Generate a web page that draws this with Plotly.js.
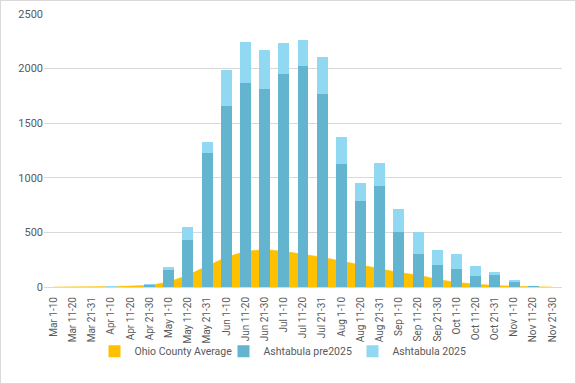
<!DOCTYPE html>
<html>
<head>
<meta charset="utf-8">
<script src="https://cdn.plot.ly/plotly-3.0.1.min.js"></script>
<style>
html,body{margin:0;padding:0;background:#fff;}
#chart{width:574px;height:382px;border:1px solid #D9D9D9;}
</style>
</head>
<body>
<div id="chart"></div>
<script>
const categories = ["Mar 1-10","Mar 11-20","Mar 21-31","Apr 1-10","Apr 11-20","Apr 21-30",
  "May 1-10","May 11-20","May 21-31","Jun 1-10","Jun 11-20","Jun 21-30",
  "Jul 1-10","Jul 11-20","Jul 21-31","Aug 1-10","Aug 11-20","Aug 21-31",
  "Sep 1-10","Sep 11-20","Sep 21-30","Oct 1-10","Oct 11-20","Oct 21-31",
  "Nov 1-10","Nov 11-20","Nov 21-30"];
const ohioAverage = [0,0,1,4,9,16,46,109,192,273,327,344,327,302,273,237,202,168,133,110,71,42,26,13,7,3,0];
const ashtabulaPre2025 = [0,0,0,0,0,20,156,431,1229,1659,1870,1815,1953,2026,1769,1128,788,926,504,303,202,165,101,110,46,9,0];
const ashtabula2025 = [0,0,0,10,0,8,27,119,100,331,376,358,284,239,340,247,165,211,211,201,137,138,92,28,18,3,0];

const fam = "Roboto, 'Liberation Sans', sans-serif";
const grey = "#595959";

const traces = [
  {type: "scatter", mode: "lines", name: "Ohio County Average", x: categories, y: ohioAverage,
   fill: "tozeroy", fillcolor: "#FFC000", line: {color: "#FFC000", width: 0.5},
   xaxis: "x", yaxis: "y", showlegend: false, hoverinfo: "x+y"},
  {type: "bar", name: "Ohio County Average", x: categories, y: categories.map(() => null),
   marker: {color: "#FFC000"}, xaxis: "x", yaxis: "y", showlegend: true},
  {type: "bar", name: "Ashtabula pre2025", x: categories, y: ashtabulaPre2025,
   marker: {color: "#63B5CF"}, xaxis: "x2", yaxis: "y2"},
  {type: "bar", name: "Ashtabula 2025", x: categories, y: ashtabula2025,
   marker: {color: "#91D8F3"}, xaxis: "x2", yaxis: "y2"}
];

const layout = {
  width: 574, height: 382,
  margin: {l: 43, r: 13, t: 13, b: 96},
  paper_bgcolor: "#fff", plot_bgcolor: "rgba(0,0,0,0)",
  font: {family: fam, size: 11, color: grey},
  barmode: "stack", bargap: 0.43,
  showlegend: true,
  legend: {orientation: "h", x: 0.5, xanchor: "center", xref: "container",
           y: 0.083, yref: "container", yanchor: "middle", bgcolor: "rgba(0,0,0,0)",
           itemwidth: 30, entrywidth: 84, entrywidthmode: "pixels",
           font: {family: fam, size: 10.5, color: grey}, traceorder: "normal"},
  xaxis: {type: "category", range: [-0.5, 26.5], tickangle: -90, showgrid: false,
          showline: true, linecolor: "#D9D9D9", linewidth: 1, ticks: "",
          ticklabelstandoff: 5,
          tickfont: {family: fam, size: 10, color: grey}, zeroline: false},
  yaxis: {range: [0, 2500], dtick: 500, showgrid: true, gridcolor: "#D9D9D9", gridwidth: 1,
          zeroline: false, showline: false, ticks: "",
          tickfont: {family: fam, size: 11, color: grey}},
  xaxis2: {type: "category", overlaying: "x", matches: "x", range: [-0.5, 26.5],
           showticklabels: false, showgrid: false, showline: false, zeroline: false, ticks: ""},
  yaxis2: {overlaying: "y", matches: "y", range: [0, 2500], showticklabels: false,
           showgrid: false, showline: false, zeroline: false, ticks: ""}
};

Plotly.newPlot("chart", traces, layout, {displayModeBar: false, staticPlot: true});
</script>
</body>
</html>
